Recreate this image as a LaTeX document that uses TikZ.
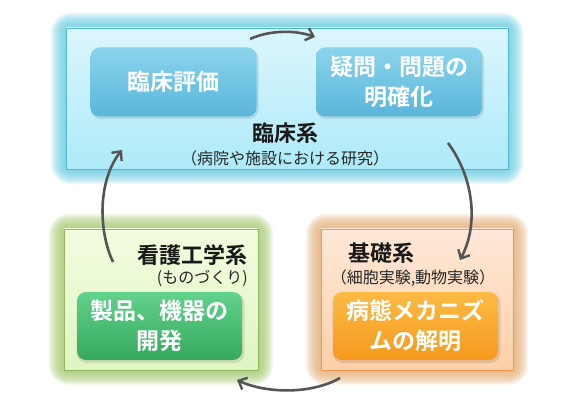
\documentclass[tikz,border=0pt]{standalone}
\usepackage{fontspec}
\setmainfont{Noto Sans CJK JP}[BoldFont={Noto Sans CJK JP Bold}]
\usetikzlibrary{arrows.meta,backgrounds}
\definecolor{cyanglow}{HTML}{6CD0E6}
\definecolor{cyantop}{HTML}{DCF6FD}
\definecolor{cyanbot}{HTML}{AEEAF9}
\definecolor{cyanline}{HTML}{4FB8D0}
\definecolor{bluetop}{HTML}{8AD4EC}
\definecolor{bluebot}{HTML}{5AB6DA}
\definecolor{greenglow}{HTML}{A8CC70}
\definecolor{greentop}{HTML}{F2FCDF}
\definecolor{greenbot}{HTML}{E0F5C2}
\definecolor{greenline}{HTML}{94B860}
\definecolor{gboxtop}{HTML}{62D28C}
\definecolor{gboxbot}{HTML}{36A85E}
\definecolor{orangeglow}{HTML}{E8B078}
\definecolor{orangetop}{HTML}{FEE8D8}
\definecolor{orangebot}{HTML}{FDD0A8}
\definecolor{orangeline}{HTML}{F09850}
\definecolor{oboxtop}{HTML}{FDBA44}
\definecolor{oboxbot}{HTML}{F49A1E}
\definecolor{arrowgray}{HTML}{555555}
\tikzset{
  panel/.style={draw, line width=0.8pt, minimum width=#1, inner sep=0pt},
  pbox/.style={rounded corners=9pt, minimum width=166pt, minimum height=69pt, inner sep=0pt,
    text=white, font=\bfseries\fontsize{23}{30}\selectfont, align=center},
  ttl/.style={font=\bfseries\fontsize{22}{26}\selectfont, text=black!90, inner sep=0pt},
  sub/.style={font=\fontsize{16}{19}\selectfont, text=black!85, inner sep=0pt},
  arr/.style={draw=arrowgray, line width=2.6pt, -{Straight Barb[length=7pt,width=13pt,line width=2.4pt]}},
}
\begin{document}
\begin{tikzpicture}[x=1pt,y=-1pt]
\useasboundingbox (0,0) rectangle (578,403);
% panels
\node[panel=442pt, minimum height=141pt, draw=cyanline, top color=cyantop, bottom color=cyanbot] (P1) at (287,98.5) {};
\node[panel=194pt, minimum height=141pt, draw=greenline, top color=greentop, bottom color=greenbot] (P2) at (161,299.5) {};
\node[panel=192pt, minimum height=141pt, draw=orangeline, top color=orangetop, bottom color=orangebot] (P3) at (417,299.5) {};
\begin{scope}[on background layer]
\fill[white] (0,0) rectangle (578,403);
\foreach \p/\c in {P1/cyanglow,P2/greenglow,P3/orangeglow}{
  \foreach \i in {1,...,15}{
    \pgfmathsetmacro{\r}{3+1.2*\i}
    \fill[\c, opacity=0.10, rounded corners=\r pt]
      ([xshift=-\i pt, yshift=\i pt]\p.north west) rectangle ([xshift=\i pt, yshift=-\i pt]\p.south east);
  }
}
\end{scope}
% inner boxes with soft shadow
\foreach \n/\x/\y in {A/173.5/82, B/399/82, C/159.5/326, D/415.5/326}{
  \fill[black, opacity=0.10, rounded corners=10pt] (\x-83,\y-33) rectangle (\x+85,\y+37);
}
\node[pbox, top color=bluetop, bottom color=bluebot] (A) at (173.5,82) {臨床評価};
\node[pbox, top color=bluetop, bottom color=bluebot] (B) at (399,82) {疑問・問題の\\明確化};
\node[pbox, top color=gboxtop, bottom color=gboxbot, minimum width=165pt, minimum height=68pt] (C) at (159.5,326) {製品、機器の\\開発};
\node[pbox, top color=oboxtop, bottom color=oboxbot, minimum width=165pt, minimum height=68pt] (D) at (415.5,326) {病態メカニズ\\ムの解明};
% titles
\node[ttl] (T1) at (285,133) {臨床系};
\node[sub] (S1) at (285,158) {（病院や施設における研究）};
\node[ttl, anchor=east] (T2) at (248,255) {看護工学系};
\node[sub, anchor=east] (S2) at (248,278) {(ものづくり)};
\node[ttl] (T3) at (381,253) {基礎系};
\node[sub] (S3) at (413,278) {（細胞実験,動物実験）};
% arrows
\coordinate (a1) at (250,39);
\coordinate (a2) at (315,37);
\coordinate (b1) at (448,143);
\coordinate (b2) at (460,260);
\coordinate (c1) at (340,378);
\coordinate (c2) at (237,380);
\coordinate (d1) at (113,262);
\coordinate (d2) at (122,150);
\draw[arr] (a1) .. controls (270,30) and (295,30) .. (a2);
\draw[arr] (b1) .. controls (472,175) and (480,222) .. (b2);
\draw[arr] (c1) .. controls (310,395) and (265,393) .. (c2);
\draw[arr] (d1) .. controls (98,230) and (98,180) .. (d2);
\end{tikzpicture}
\end{document}
